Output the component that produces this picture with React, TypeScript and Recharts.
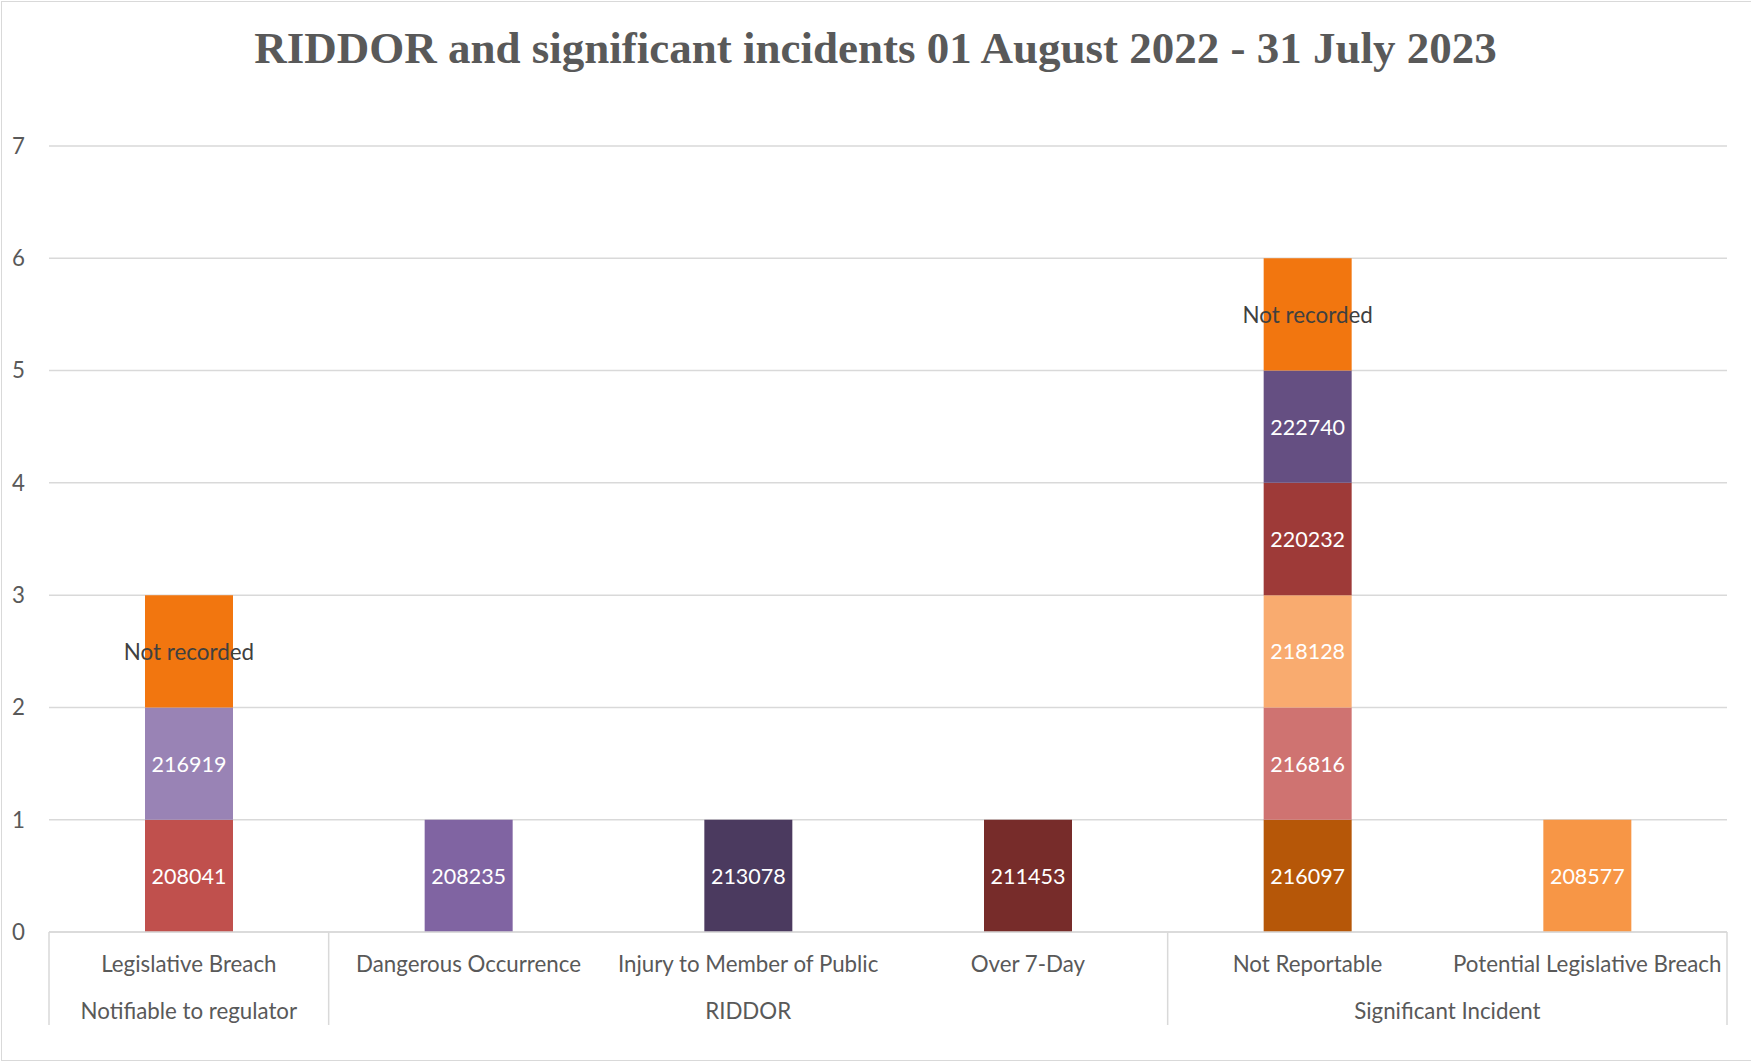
import { BarChart, Bar, XAxis, YAxis, CartesianGrid, Cell, LabelList } from 'recharts'

const categories = [
  'Legislative Breach',
  'Dangerous Occurrence',
  'Injury to Member of Public',
  'Over 7-Day',
  'Not Reportable',
  'Potential Legislative Breach',
]

const groups = [
  'Notifiable to regulator',
  'RIDDOR',
  'RIDDOR',
  'RIDDOR',
  'Significant Incident',
  'Significant Incident',
]

// incident reference shown on each stacked segment, bottom to top
const incidentIds: string[][] = [
  ['208041', '216919', 'Not recorded'],
  ['208235'],
  ['213078'],
  ['211453'],
  ['216097', '216816', '218128', '220232', '222740', 'Not recorded'],
  ['208577'],
]

const incidentCounts: number[][] = [
  [1, 1, 1],
  [1],
  [1],
  [1],
  [1, 1, 1, 1, 1, 1],
  [1],
]

const segmentColors: string[][] = [
  ['#C0504D', '#9983B5', '#F2760F'],
  ['#8064A2'],
  ['#4B3A5F'],
  ['#772C2A'],
  ['#B65708', '#CF7371', '#F9AB6F', '#9E3A38', '#654F82', '#F2760F'],
  ['#F79646'],
]

const yTicks = [0, 1, 2, 3, 4, 5, 6, 7]

const W = 1751
const H = 1062
const MARGIN = { top: 146, right: 24, left: 0, bottom: 30 }
const Y_AXIS_W = 49
const PLOT_W = W - MARGIN.left - MARGIN.right - Y_AXIS_W
const BAND = PLOT_W / categories.length
const FONT = 'Lato, "Open Sans", sans-serif'
const TEXT = '#595959'
const GRID = '#D9D9D9'

const levels = [0, 1, 2, 3, 4, 5]

const chartData = categories.map((name, i) => {
  const row: Record<string, string | number | undefined> = { name, group: groups[i] }
  levels.forEach((l) => {
    row[`s${l}`] = incidentCounts[i][l]
    row[`id${l}`] = incidentIds[i][l]
  })
  return row
})

function SegmentLabel(props: any) {
  const { x, y, width, height, value } = props
  if (!value) return null
  const isText = value === 'Not recorded'
  return (
    <text
      x={Number(x) + Number(width) / 2}
      y={Number(y) + Number(height) / 2}
      textAnchor="middle"
      dominantBaseline="central"
      fontFamily={FONT}
      fontSize={isText ? 22.4 : 21.5}
      fill={isText ? '#404040' : '#FFFFFF'}
    >
      {value}
    </text>
  )
}

function CategoryTick(props: any) {
  const { x, y, payload } = props
  const i = payload.index
  const g = groups[i]
  const isFirst = i === 0 || groups[i - 1] !== g
  const isLast = i === groups.length - 1
  const size = groups.filter((v) => v === g).length
  return (
    <g>
      <text
        x={x}
        y={y + 31}
        textAnchor="middle"
        dominantBaseline="central"
        fontFamily={FONT}
        fontSize={22.3}
        fill={TEXT}
      >
        {categories[i]}
      </text>
      {isFirst && (
        <>
          <line x1={x - BAND / 2} x2={x - BAND / 2} y1={y} y2={y + 93} stroke={GRID} strokeWidth={1.5} />
          <text
            x={x + ((size - 1) * BAND) / 2}
            y={y + 78}
            textAnchor="middle"
            dominantBaseline="central"
            fontFamily={FONT}
            fontSize={22.3}
            fill={TEXT}
          >
            {g}
          </text>
        </>
      )}
      {isLast && (
        <line x1={x + BAND / 2} x2={x + BAND / 2} y1={y} y2={y + 93} stroke={GRID} strokeWidth={1.5} />
      )}
    </g>
  )
}

export default function App() {
  return (
    <div style={{ position: 'relative', width: W, height: H, background: '#fff' }}>
      <style>{'body{margin:0}'}</style>
      <div
        style={{
          position: 'absolute',
          left: 1,
          top: 1,
          width: W - 1,
          height: H - 2,
          borderTop: `1.5px solid ${GRID}`,
          borderLeft: `1.5px solid ${GRID}`,
          borderBottom: `1.5px solid ${GRID}`,
          boxSizing: 'border-box',
        }}
      />
      <div
        style={{
          position: 'absolute',
          left: 0,
          top: 0,
          width: W,
          height: 96,
          lineHeight: '96px',
          textAlign: 'center',
          fontFamily: '"Liberation Serif", serif',
          fontWeight: 'bold',
          fontSize: 45,
          color: TEXT,
        }}
      >
        RIDDOR and significant incidents 01 August 2022 - 31 July 2023
      </div>
      <BarChart width={W} height={H} data={chartData} margin={MARGIN} style={{ position: 'absolute', left: 0, top: 0 }}>
        <CartesianGrid vertical={false} stroke={GRID} strokeWidth={1.5} />
        <XAxis
          dataKey="name"
          height={100}
          stroke={GRID}
          strokeWidth={1.5}
          tickLine={false}
          tickSize={0}
          tickMargin={0}
          interval={0}
          tick={<CategoryTick />}
        />
        <YAxis
          width={Y_AXIS_W}
          domain={[0, 7]}
          ticks={yTicks}
          axisLine={false}
          tickLine={false}
          tickSize={0}
          tickMargin={24}
          tick={{ fill: TEXT, fontFamily: FONT, fontSize: 22.3 }}
        />
        {levels.map((l) => (
          <Bar key={l} dataKey={`s${l}`} stackId="a" barSize={88} isAnimationActive={false}>
            {chartData.map((_, i) => (
              <Cell key={i} fill={segmentColors[i][l] ?? 'none'} />
            ))}
            <LabelList dataKey={`id${l}`} content={<SegmentLabel />} />
          </Bar>
        ))}
      </BarChart>
    </div>
  )
}
